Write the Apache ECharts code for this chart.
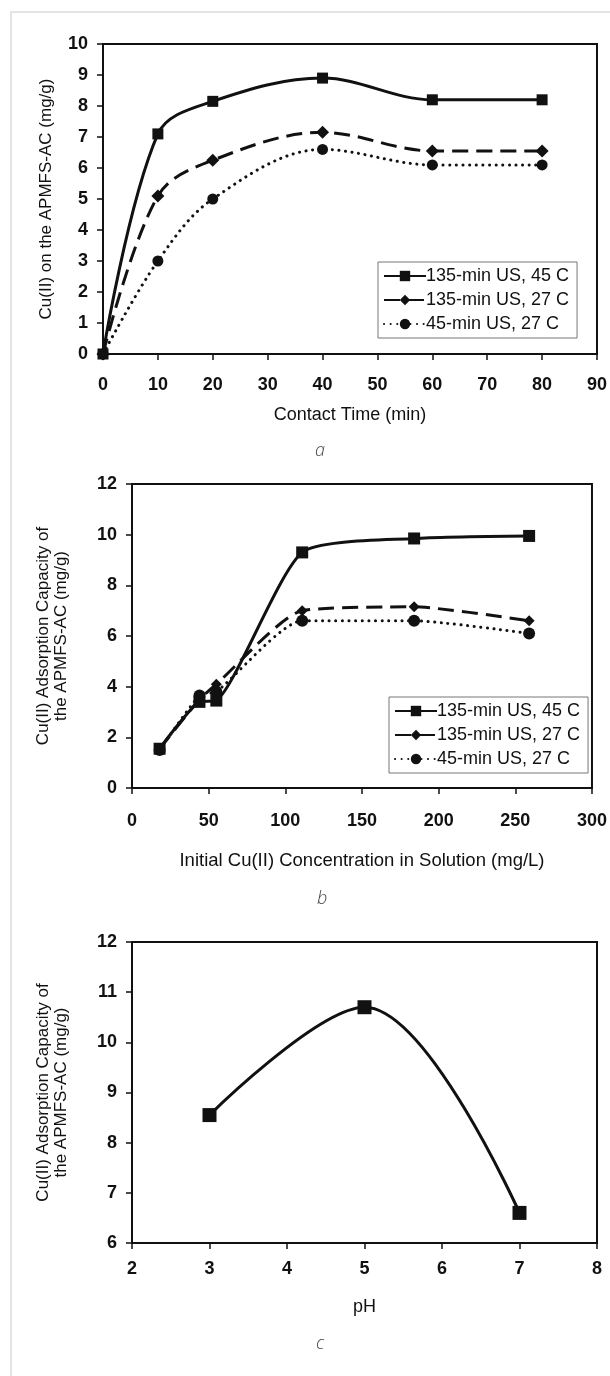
<!DOCTYPE html>
<html>
<head>
<meta charset="utf-8">
<script src="https://cdn.jsdelivr.net/npm/echarts@6/dist/echarts.min.js"></script>
<style>
  html, body { margin: 0; padding: 0; background: #fff; }
  #main { width: 610px; height: 1376px; }
</style>
</head>
<body>
<div id="main"></div>
<script>
// panel a: contact time
const timeA = [0, 10, 20, 40, 60, 80];
const a45 = [0, 7.1, 8.15, 8.9, 8.2, 8.2];
const a27 = [0, 5.1, 6.25, 7.15, 6.55, 6.55];
const a27short = [0, 3.0, 5.0, 6.6, 6.1, 6.1];

// panel b: initial concentration
const concB = [18, 44, 55, 111, 184, 259];
const b45 = [1.55, 3.4, 3.45, 9.3, 9.85, 9.95];
const b27 = [1.55, 3.5, 4.1, 7.0, 7.15, 6.6];
const b27short = [1.5, 3.65, 3.8, 6.6, 6.6, 6.1];

// panel c: pH
const phC = [3, 5, 7];
const capC = [8.55, 10.7, 6.6];

const names = ["135-min US, 45 C", "135-min US, 27 C", "45-min US, 27 C"];

const FONT = "'Liberation Sans', Arial, sans-serif";
const INK = "#111";

const zip = (xs, ys) => xs.map((x, i) => [x, ys[i]]);

function xAx(idx, min, max, interval, name, gap, margin, nameSize) {
  return {
    type: "value", gridIndex: idx, min: min, max: max, interval: interval,
    name: name, nameLocation: "middle", nameGap: gap,
    nameTextStyle: { fontFamily: FONT, fontSize: nameSize, color: INK },
    axisLine: { show: true, onZero: false, lineStyle: { color: INK, width: 2 } },
    axisTick: { show: true, inside: false, length: 6, lineStyle: { color: INK, width: 1.5 } },
    axisLabel: { fontFamily: FONT, fontSize: 18, fontWeight: "bold", color: INK, margin: margin },
    splitLine: { show: false },
  };
}

function yAx(idx, min, max, interval, name, gap) {
  return {
    type: "value", gridIndex: idx, min: min, max: max, interval: interval,
    name: name, nameLocation: "middle", nameGap: gap, nameRotate: 90,
    nameTextStyle: { fontFamily: FONT, fontSize: 17, color: INK, lineHeight: 18 },
    axisLine: { show: true, onZero: false, lineStyle: { color: INK, width: 2 } },
    axisTick: { show: true, inside: false, length: 6, lineStyle: { color: INK, width: 1.5 } },
    axisLabel: { fontFamily: FONT, fontSize: 18, fontWeight: "bold", color: INK, margin: 15 },
    splitLine: { show: false },
  };
}

function line(name, xi, data, kind, symSize, smooth) {
  const s = {
    name: name, type: "line", xAxisIndex: xi, yAxisIndex: xi, data: data,
    smooth: smooth, showSymbol: true, symbolSize: symSize,
    itemStyle: { color: INK, borderWidth: 0 },
    lineStyle: { color: INK, width: 3 },
    emphasis: { disabled: true },
    z: 3,
  };
  if (kind === "square") {
    s.symbol = "rect";
  } else if (kind === "diamond") {
    s.symbol = "diamond";
    s.lineStyle.type = [16, 8];
  } else {
    s.symbol = "circle";
    s.lineStyle.type = [0.1, 6.5];
    s.lineStyle.cap = "round";
  }
  return s;
}

function legend(left, top) {
  return {
    left: left, top: top, orient: "vertical",
    data: names,
    itemWidth: 42, itemHeight: 13, itemGap: 6,
    padding: [5, 8, 5, 5],
    borderColor: "#777", borderWidth: 1, backgroundColor: "#fff",
    textStyle: { fontFamily: FONT, fontSize: 18, color: INK, padding: [0, 0, 0, -5] },
    selectedMode: false,
  };
}

const chart = echarts.init(document.getElementById("main"), null, { renderer: "canvas" });

chart.setOption({
  animation: false,
  backgroundColor: "#fff",
  grid: [
    { left: 103, top: 44, width: 494, height: 310, show: true, borderColor: INK, borderWidth: 2 },
    { left: 132, top: 484, width: 465, height: 304, show: true, borderColor: INK, borderWidth: 2 },
    { left: 132, top: 942, width: 465, height: 301, show: true, borderColor: INK, borderWidth: 2 },
  ],
  xAxis: [
    xAx(0, 0, 90, 10, "Contact Time (min)", 52, 22, 18),
    xAx(1, 0, 300, 50, "Initial Cu(II) Concentration in Solution (mg/L)", 63, 24, 18.5),
    xAx(2, 2, 8, 1, "pH", 55, 17, 18),
  ],
  yAxis: [
    yAx(0, 0, 10, 1, "Cu(II) on the APMFS-AC (mg/g)", 48),
    yAx(1, 0, 12, 2, "Cu(II) Adsorption Capacity of\nthe APMFS-AC (mg/g)", 62),
    yAx(2, 6, 12, 1, "Cu(II) Adsorption Capacity of\nthe APMFS-AC (mg/g)", 62),
  ],
  legend: [legend(378, 262), legend(389, 697)],
  series: [
    line(names[0], 0, zip(timeA, a45), "square", 11, 0.35),
    line(names[1], 0, zip(timeA, a27), "diamond", 13, 0.35),
    line(names[2], 0, zip(timeA, a27short), "circle", 11, 0.35),
    line(names[0], 1, zip(concB, b45), "square", 12, 0.2),
    line(names[1], 1, zip(concB, b27), "diamond", 11, 0.2),
    line(names[2], 1, zip(concB, b27short), "circle", 12, 0.2),
    line("pH", 2, zip(phC, capC), "square", 14, 0.35),
  ],
  graphic: [
    { type: "line", shape: { x1: 10, y1: 12, x2: 610, y2: 12 }, style: { stroke: "#e4e4e4", lineWidth: 2 } },
    { type: "line", shape: { x1: 11, y1: 12, x2: 11, y2: 1376 }, style: { stroke: "#e4e4e4", lineWidth: 2 } },
    { type: "text", left: 315, top: 442, style: { text: "a", font: "italic 300 18px 'Open Sans', sans-serif", fill: "#444" } },
    { type: "text", left: 317, top: 890, style: { text: "b", font: "italic 300 18px 'Open Sans', sans-serif", fill: "#444" } },
    { type: "text", left: 316, top: 1335, style: { text: "c", font: "italic 300 18px 'Open Sans', sans-serif", fill: "#444" } },
  ],
});
</script>
</body>
</html>
